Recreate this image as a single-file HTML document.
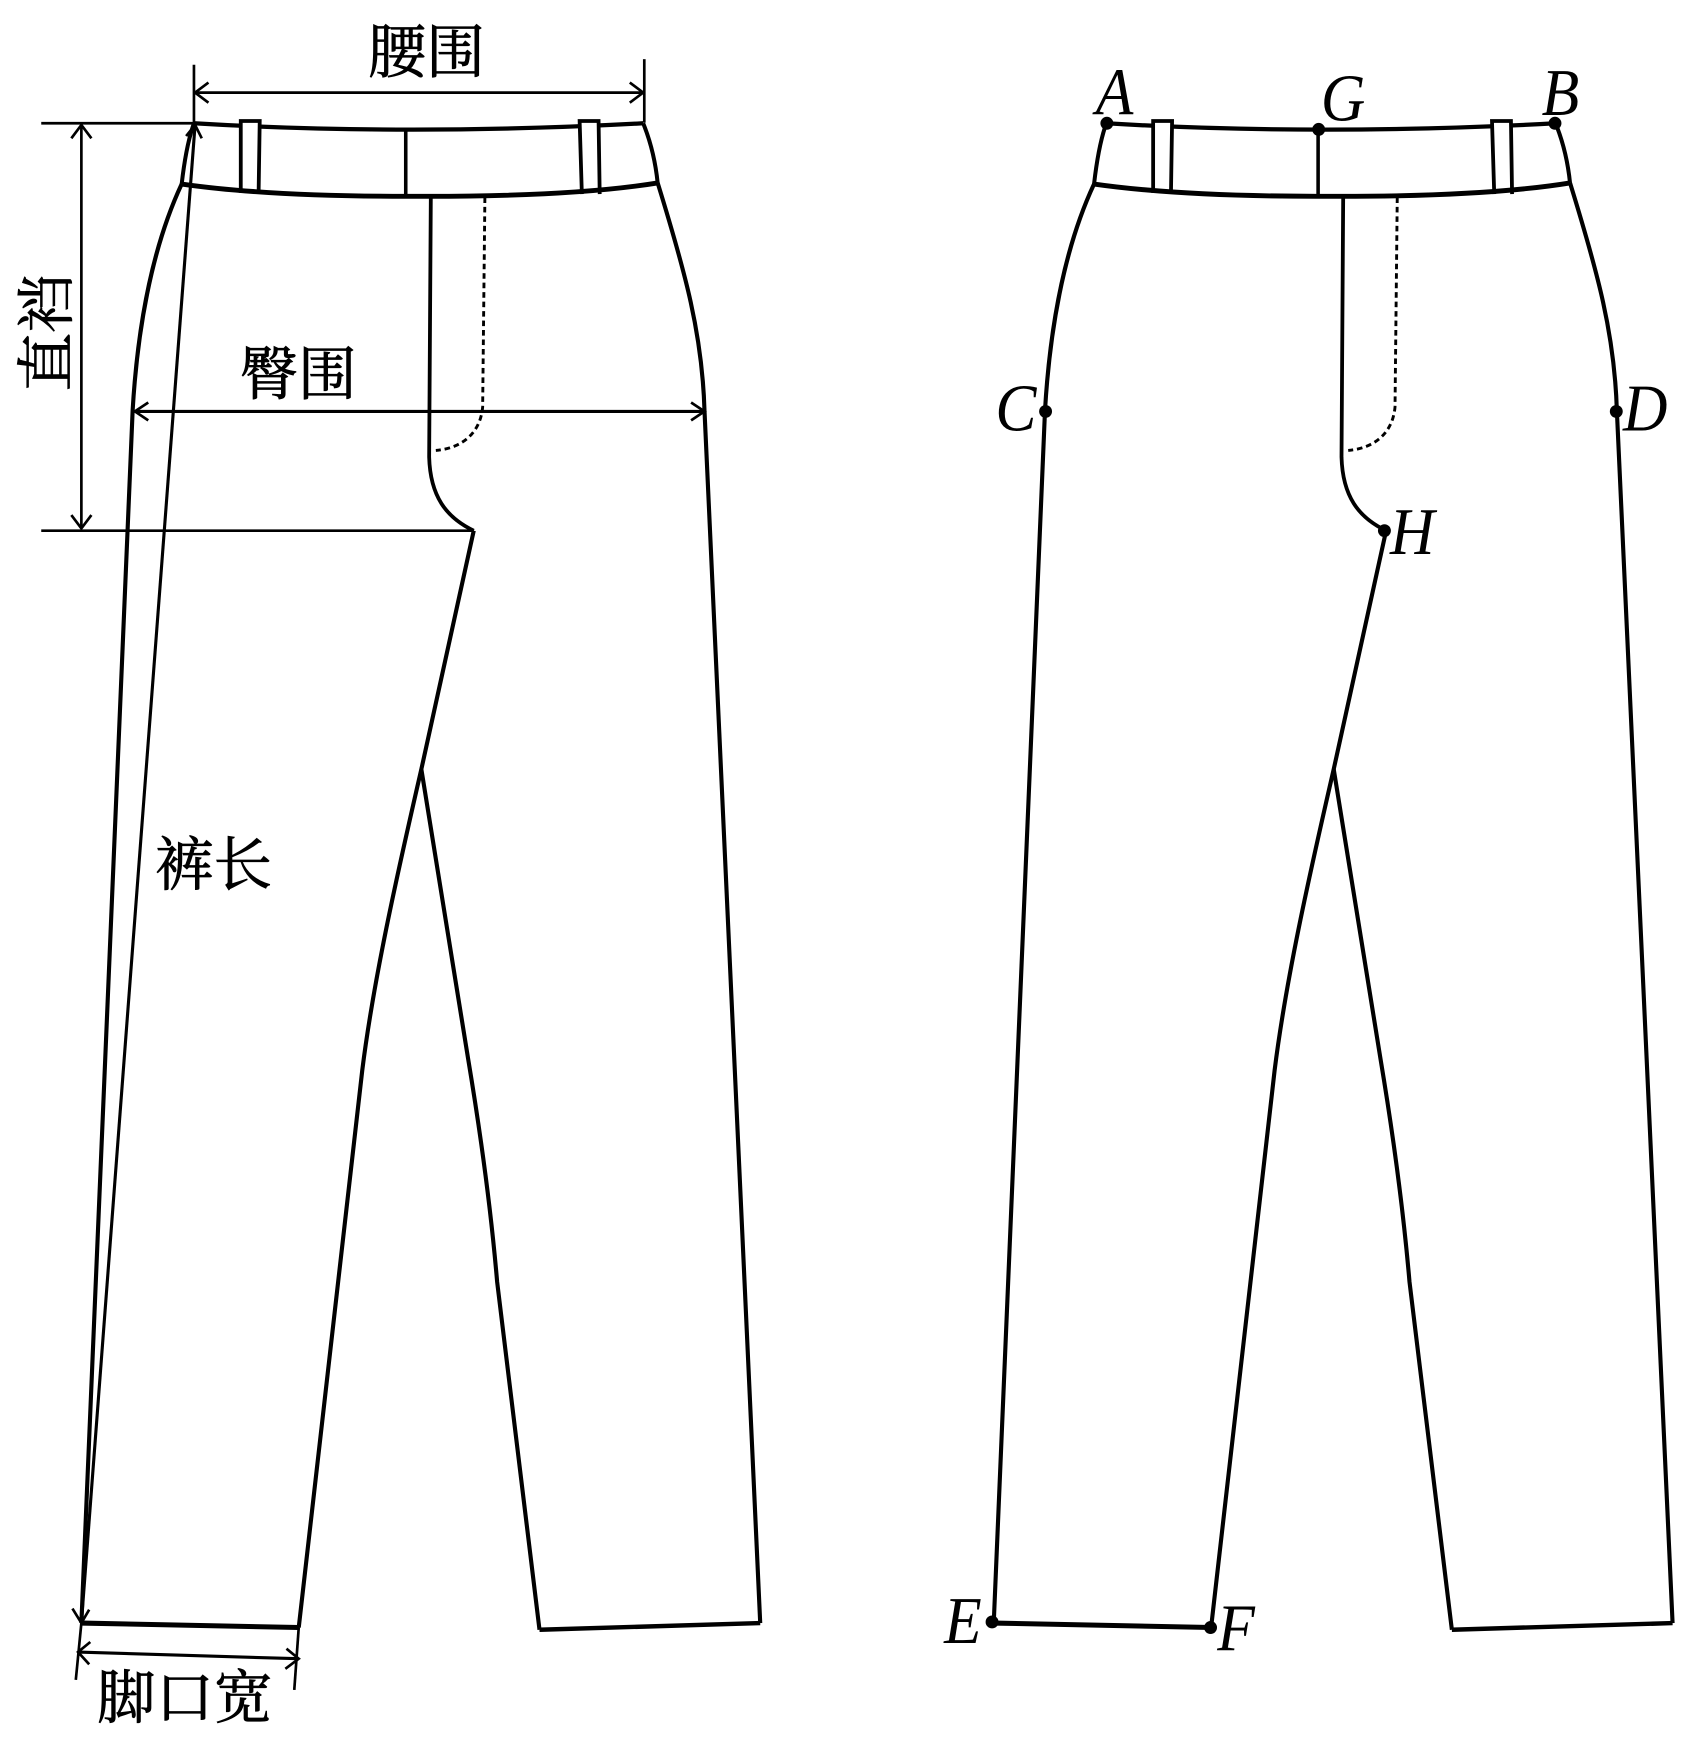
<!DOCTYPE html>
<html>
<head>
<meta charset="utf-8">
<style>
html,body{margin:0;padding:0;background:#fff;width:1701px;height:1748px;overflow:hidden}
svg{display:block}
.cn{font-family:"Liberation Serif","Noto Serif CJK SC",serif;font-size:52.500px;fill:#000;stroke:#000;stroke-width:.7px}
.lt{font-family:"Liberation Serif",serif;font-style:italic;font-size:60px;fill:#000}
</style>
</head>
<body>
<svg width="1701" height="1748" viewBox="0 0 1526 1568" xmlns="http://www.w3.org/2000/svg">
<defs>
<g id="pants" fill="none" stroke="#000" stroke-linejoin="miter">
  <path stroke-width="3.800" d="M174 110.500 Q365 122 577 110.500"/>
  <path stroke-width="3.600" d="M174 110.500 Q167 130 163 165"/>
  <path stroke-width="3.600" d="M577 110.500 Q587 135 590 164"/>
  <path stroke-width="3.400" fill="#fff" d="M216 173 L216 108.500 L233 108.500 L232 173"/>
  <path stroke-width="3.400" fill="#fff" d="M522 174 L520 108.500 L537 108.500 L538 174"/>
  <path stroke-width="4.400" d="M163 165 Q240 176 363 176 Q510 177 590 164"/>
  <path stroke-width="3.200" d="M364 117 L364 175"/>
  <path stroke-width="3.400" d="M386.500 176 L385 410 C386 445 400 464 425 476"/>
  <path stroke-width="2.600" stroke-dasharray="5 3.500" d="M435 177 L433 365 C431 388 415 402 391 404"/>
  <path stroke-width="3.700" stroke-linejoin="round" d="M425 476 L378 690 C355 790 335 880 325 960 L268 1460"/>
  <path stroke-width="3.700" d="M378 690 L420 950 C430 1010 440 1080 446 1150 L484 1462"/>
  <path stroke-width="4" d="M484 1462 L682 1456"/>
  <path stroke-width="3.700" d="M682 1456 L632 368 C630 300 615 245 590 164"/>
  <path stroke-width="3.700" d="M73 1456 L119 368 C123 300 135 225 163 165"/>
  <path stroke-width="4.500" d="M73 1456 L268 1460"/>
</g>
</defs>

<use href="#pants"/>
<use href="#pants" x="818.500"/>

<!-- left measurements -->
<g fill="none" stroke="#000" stroke-width="2.400">
  <path d="M37 110.500 H174"/>
  <path d="M37 476 H425"/>
  <path d="M73 112 V474"/>
  <path d="M64 124 L73 112 L82 124"/>
  <path d="M64 462 L73 474 L82 462"/>
  <path d="M174 58 V110"/>
  <path d="M578 53 V110"/>
  <path d="M175 83 H577"/>
  <path d="M187 74 L175 83 L187 92"/>
  <path d="M565 74 L577 83 L565 92"/>
  <path stroke-width="2.800" d="M121 369 H632"/>
  <path d="M133 361 L121 369 L133 377"/>
  <path d="M620 361 L632 369 L620 377"/>
  <path stroke-width="2.800" d="M175 112 L73 1456"/>
  <path d="M167 122 L175 112 L181 124"/>
  <path d="M65 1443 L73 1456 L80 1444"/>
  <path stroke-width="2.800" d="M70 1482 L268 1488"/>
  <path d="M81 1473 L70 1482 L80 1493"/>
  <path d="M257 1479 L268 1488 L256 1497"/>
  <path d="M73 1456 L68 1507"/>
  <path d="M268 1460 L264 1516"/>
</g>

<!-- dots -->
<g fill="#000">
  <circle cx="993" cy="110.500" r="5.800"/>
  <circle cx="1183" cy="116" r="5.800"/>
  <circle cx="1395" cy="110.500" r="5.800"/>
  <circle cx="938" cy="369" r="5.800"/>
  <circle cx="1450" cy="369" r="5.800"/>
  <circle cx="1242" cy="476" r="5.800"/>
  <circle cx="890" cy="1455" r="5.800"/>
  <circle cx="1086" cy="1460" r="5.800"/>
</g>

<!-- Chinese labels -->
<text class="cn" x="330" y="65">腰围</text>
<text class="cn" x="215" y="354">臀围</text>
<text class="cn" x="139" y="794">裤长</text>
<text class="cn" x="87" y="1541">脚口宽</text>
<text class="cn" transform="translate(60,351) rotate(-90)">直裆</text>

<!-- Letter labels -->
<text class="lt" transform="translate(983,102) scale(.92,1)">A</text>
<text class="lt" transform="translate(1185,108) scale(.92,1)">G</text>
<text class="lt" transform="translate(1383,103) scale(.92,1)">B</text>
<text class="lt" transform="translate(893,386) scale(.92,1)">C</text>
<text class="lt" transform="translate(1456,386) scale(.92,1)">D</text>
<text class="lt" transform="translate(1247,497) scale(.92,1)">H</text>
<text class="lt" transform="translate(847,1474) scale(.92,1)">E</text>
<text class="lt" transform="translate(1092,1480) scale(.92,1)">F</text>
</svg>
</body>
</html>
